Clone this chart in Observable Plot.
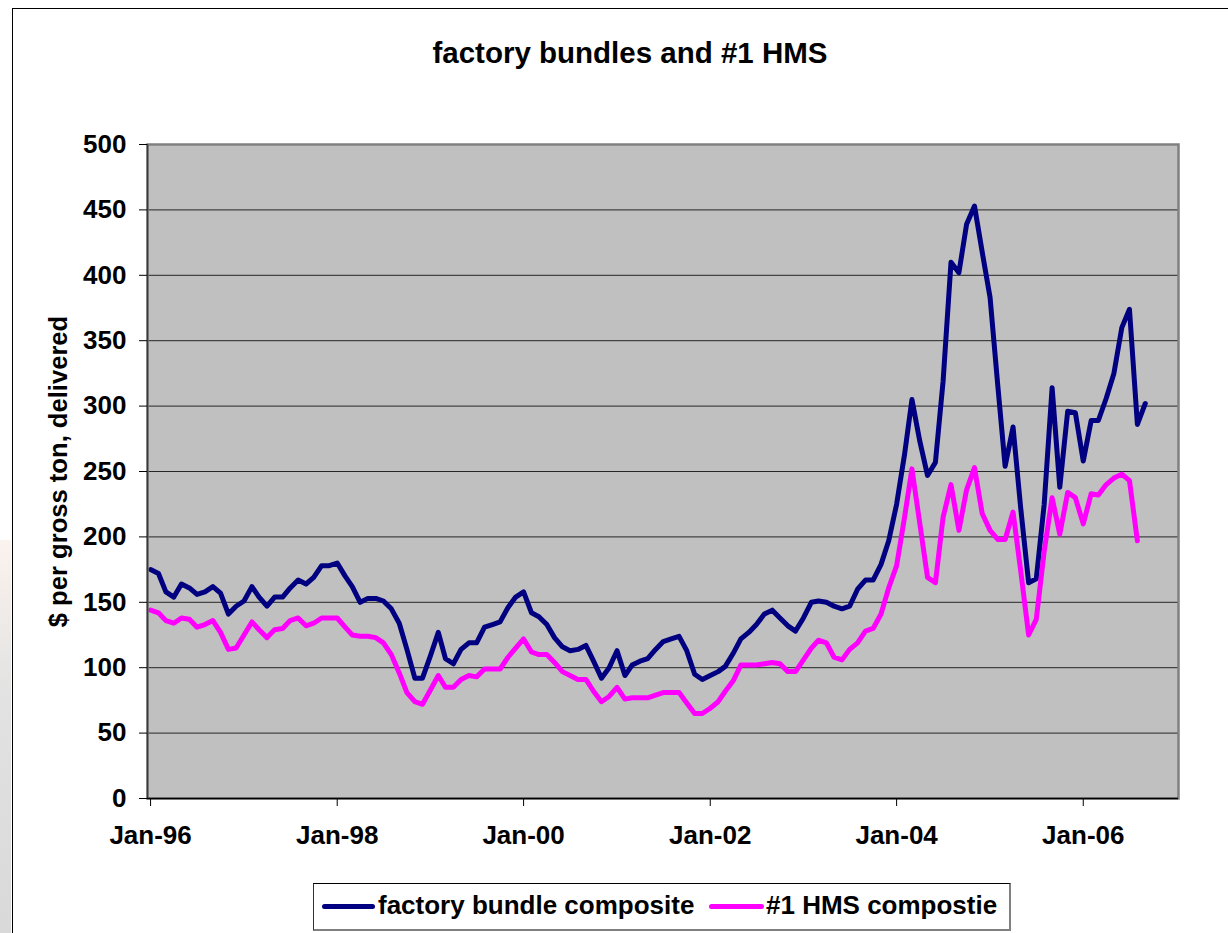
<!DOCTYPE html>
<html>
<head>
<meta charset="utf-8">
<script src="https://cdn.jsdelivr.net/npm/d3@7"></script>
<script src="https://cdn.jsdelivr.net/npm/@observablehq/plot@0.6"></script>
<style>
  html, body { margin: 0; padding: 0; background: #fff; overflow: hidden; }
  #page { position: relative; width: 1228px; height: 933px; overflow: hidden;
          font-family: "Liberation Sans", Arial, sans-serif; font-weight: bold; color: #000; }
  #edge { position: absolute; left: 0; top: 540px; width: 11px; height: 393px;
          background: linear-gradient(#fbf3ee, #e2e2e2 40%, #d9d9d9); }
  #frame { position: absolute; left: 12px; top: 8px; width: 1260px; height: 960px;
           border-left: 1.5px solid #000; border-top: 1.5px solid #000; }
  #chart { position: absolute; left: 0; top: 0; }
  #title { position: absolute; left: 630px; top: 38px; transform: translateX(-50%);
           font-size: 29.5px; line-height: 29.5px; white-space: nowrap; }
  #legend { position: absolute; left: 313px; top: 883px; width: 695px; height: 45px;
            background: #fff; border-left: 1px solid #333; border-top: 1px solid #000;
            border-right: 2px solid #808080; border-bottom: 2px solid #808080; }
  .sw { position: absolute; height: 5px; border-radius: 3px; top: 20px; }
  .lt { position: absolute; top: 8px; font-size: 26px; line-height: 26px; white-space: nowrap; }
</style>
</head>
<body>
<div id="page">
  <div id="edge"></div>
  <div id="frame"></div>
  <div id="title"></div>
  <div id="chart"></div>
  <div id="legend"></div>
</div>
<script>
// Monthly composite prices, $ per gross ton delivered, starting January 1996
const factoryBundle = [
  175, 172, 158, 154, 164, 161, 156, 158, 162, 157, 141, 147,   // 1996
  151, 162, 154, 147, 154, 154, 161, 167, 164, 169, 178, 178,   // 1997
  180, 170, 162, 150, 153, 153, 151, 145, 134, 114,  92,  92,   // 1998
  109, 127, 107, 103, 114, 119, 119, 131, 133, 135, 146, 154,   // 1999
  158, 142, 139, 133, 123, 116, 113, 114, 117, 105,  92, 100,   // 2000
  113,  94, 102, 105, 107, 114, 120, 122, 124, 113,  95,  91,   // 2001
   94,  97, 101, 111, 122, 127, 133, 141, 144, 138, 132, 128,   // 2002
  138, 150, 151, 150, 147, 145, 147, 160, 167, 167, 179, 197,   // 2003
  225, 263, 305, 273, 247, 257, 319, 410, 402, 439, 453, 418,   // 2004
  383, 314, 254, 284, 222, 165, 168, 225, 314, 238, 296, 295,   // 2005
  258, 289, 289, 306, 325, 360, 374, 286, 302                   // 2006
];
const hmsOne = [
  144, 142, 136, 134, 138, 137, 131, 133, 136, 127, 114, 115,   // 1996
  125, 135, 129, 123, 129, 130, 136, 138, 132, 134, 138, 138,   // 1997
  138, 131, 125, 124, 124, 123, 119, 110,  96,  81,  74,  72,   // 1998
   83,  94,  85,  85,  91,  94,  93,  99,  99,  99, 108, 115,   // 1999
  122, 112, 110, 110, 104,  97,  94,  91,  91,  82,  74,  78,   // 2000
   85,  76,  77,  77,  77,  79,  81,  81,  81,  73,  65,  65,   // 2001
   69,  74,  82,  90, 102, 102, 102, 103, 104, 103,  97,  97,   // 2002
  106, 115, 121, 119, 108, 106, 114, 119, 128, 130, 141, 161,   // 2003
  178, 215, 252, 210, 169, 165, 215, 240, 205, 236, 253, 218,   // 2004
  205, 198, 198, 219, 174, 125, 137, 189, 230, 202, 234, 230,   // 2005
  210, 233, 232, 240, 245, 248, 243, 197                        // 2006
];
const seriesNames = ["factory bundle composite", "#1 HMS compostie"];
const seriesColors = ["#000080", "#FF00FF"];
const yTicks = [0, 50, 100, 150, 200, 250, 300, 350, 400, 450, 500];
const xTickYears = [1996, 1998, 2000, 2002, 2004, 2006];
const titleText = "factory bundles and #1 HMS";
const yLabel = "$ per gross ton, delivered";

const firstMonth = new Date(Date.UTC(1996, 0, 1));
const toRows = (values) => values.map((value, i) => ({date: d3.utcMonth.offset(firstMonth, i), value}));
const bundleRows = toRows(factoryBundle);
const hmsRows = toRows(hmsOne);
const xTicks = xTickYears.map(y => new Date(Date.UTC(y, 0, 1)));
const xDomain = [new Date(Date.UTC(1995, 11, 20)), new Date(Date.UTC(2007, 0, 9))];

const font = '"Liberation Sans", Arial, sans-serif';

const chart = Plot.plot({
  width: 1228,
  height: 870,
  marginTop: 144,
  marginLeft: 147,
  marginRight: 50,
  marginBottom: 72,
  style: {fontFamily: font, fontWeight: "bold", fontSize: "26px", color: "#000", background: "transparent", overflow: "visible"},
  x: {type: "utc", domain: xDomain},
  y: {domain: [0, 500]},
  marks: [
    Plot.frame({fill: "#C0C0C0"}),
    Plot.ruleY(yTicks.filter(v => v > 0 && v < 500), {stroke: "#262626", strokeWidth: 1}),
    Plot.line(bundleRows, {x: "date", y: "value", stroke: seriesColors[0], strokeWidth: 5,
      strokeLinejoin: "round", strokeLinecap: "round"}),
    Plot.line(hmsRows, {x: "date", y: "value", stroke: seriesColors[1], strokeWidth: 5,
      strokeLinejoin: "round", strokeLinecap: "round"}),
    Plot.frame({stroke: "#808080", strokeWidth: 2.5}),
    Plot.ruleX([xDomain[0]], {stroke: "#3a3a3a", strokeWidth: 1.5}),
    Plot.ruleY([0], {stroke: "#000", strokeWidth: 1.5}),
    Plot.axisY({ticks: yTicks, tickSize: 8, tickPadding: 13, fontSize: 26, label: null}),
    Plot.axisX({ticks: xTicks, tickSize: 8, tickPadding: 19, fontSize: 26, label: null,
      tickFormat: d3.utcFormat("%b-%y")}),
    Plot.text([yLabel], {frameAnchor: "left", textAnchor: "middle", rotate: -90, dx: -89,
      fontSize: 25.6, fontWeight: "bold", fill: "#000"})
  ]
});
document.getElementById("chart").appendChild(chart);

document.getElementById("title").textContent = titleText;

// Legend: line swatches with series names
const legend = d3.select("#legend");
const swatchLeft = [8, 395];
const swatchWidth = [53, 55];
const labelLeft = [64, 452];
seriesNames.forEach((name, i) => {
  legend.append("div").attr("class", "sw")
    .style("left", swatchLeft[i] + "px").style("width", swatchWidth[i] + "px")
    .style("background", seriesColors[i]);
  legend.append("div").attr("class", "lt")
    .style("left", labelLeft[i] + "px").text(name);
});
</script>
</body>
</html>
